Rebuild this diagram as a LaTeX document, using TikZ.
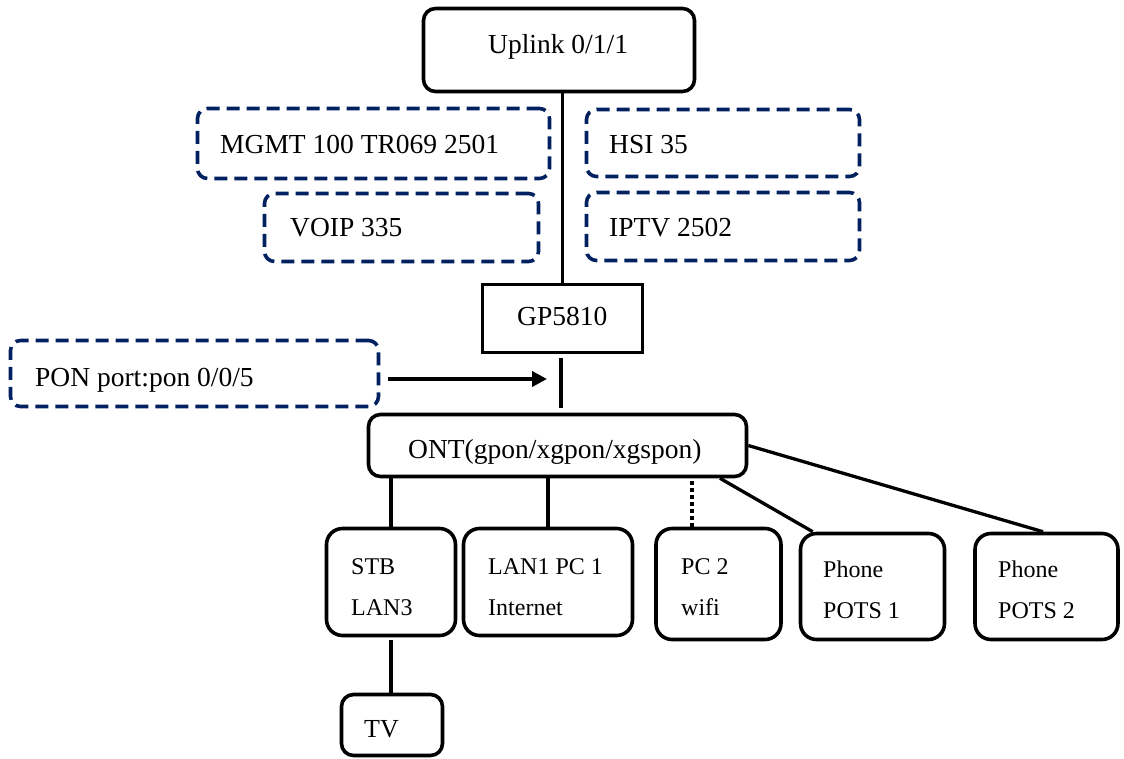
\documentclass[tikz,border=0pt]{standalone}
\usepackage{fontspec}
\setmainfont{Liberation Serif}
\usetikzlibrary{arrows.meta}
\definecolor{vlanblue}{RGB}{0,32,96}
\begin{document}
\begin{tikzpicture}[x=1pt,y=-1pt,
  box/.style={draw, line width=3.6pt, rounded corners=12pt, inner sep=0pt},
  devbox/.style={draw, line width=3.6pt, rounded corners=16pt, inner sep=0pt},
  vlanbox/.style={draw=vlanblue, line width=3.6pt, dash pattern=on 13pt off 7pt,
                  rounded corners=10pt, inner sep=0pt},
  oltbox/.style={draw, line width=3.8pt, inner sep=0pt},
  lbl/.style={inner sep=0pt, anchor=base west, font=\fontsize{27.5}{33}\selectfont},
  small/.style={inner sep=0pt, anchor=base west, font=\fontsize{24}{29}\selectfont},
  link/.style={line width=3.3pt},
]
\useasboundingbox (0,0) rectangle (1124,758);

% uplink and service VLANs
\node[box, minimum width=271pt, minimum height=83pt] (uplink) at (559,50) {};
\node[lbl] (uplinkt) at (488,53) {Uplink 0/1/1};

\node[vlanbox, minimum width=352pt, minimum height=70pt] (mgmt) at (373.5,143.5) {};
\node[lbl] (mgmtt) at (220,153) {MGMT 100 TR069 2501};
\node[vlanbox, minimum width=274pt, minimum height=68pt] (voip) at (401.5,227.5) {};
\node[lbl] (voipt) at (290,236) {VOIP 335};
\node[vlanbox, minimum width=273pt, minimum height=67pt] (hsi) at (723,143) {};
\node[lbl] (hsit) at (609,153) {HSI 35};
\node[vlanbox, minimum width=273pt, minimum height=68pt] (iptv) at (723,226.5) {};
\node[lbl] (iptvt) at (609,236) {IPTV 2502};

% OLT
\node[oltbox, minimum width=160pt, minimum height=68pt] (gp) at (562.5,318.5) {};
\node[lbl] (gpt) at (517,325) {GP5810};

% PON port
\node[vlanbox, minimum width=368pt, minimum height=66pt] (pon) at (194.5,373.5) {};
\node[lbl] (pont) at (35,386) {PON port:pon 0/0/5};
\coordinate (ponend) at (547,379);

% ONT
\node[box, minimum width=378pt, minimum height=62pt] (ont) at (557.5,445.5) {};
\node[lbl] (ontt) at (408,458) {ONT(gpon/xgpon/xgspon)};

% subscriber devices
\node[devbox, minimum width=129pt, minimum height=107pt] (stb) at (391,582) {};
\node[small] (stbt1) at (351,574) {STB};
\node[small] (stbt2) at (351,615) {LAN3};
\node[devbox, minimum width=169pt, minimum height=107pt] (lan) at (548,582) {};
\node[small] (lant1) at (488,574) {LAN1 PC 1};
\node[small] (lant2) at (488,615) {Internet};
\node[devbox, minimum width=125pt, minimum height=111pt] (pc) at (718.5,584) {};
\node[small] (pct1) at (681,574) {PC 2};
\node[small] (pct2) at (681,615) {wifi};
\node[devbox, minimum width=144pt, minimum height=106pt] (ph1) at (872.5,586.5) {};
\node[small] (ph1t1) at (823,577) {Phone};
\node[small] (ph1t2) at (823,618) {POTS 1};
\node[devbox, minimum width=143pt, minimum height=106pt] (ph2) at (1046.5,586.5) {};
\node[small] (ph2t1) at (998,577) {Phone};
\node[small] (ph2t2) at (998,618) {POTS 2};
\node[devbox, rounded corners=12pt, minimum width=101pt, minimum height=61pt] (tv) at (392,725) {};
\node[inner sep=0pt, anchor=base west, font=\fontsize{26}{31}\selectfont] (tvt) at (364,737) {TV};

% connections
\draw[link, line width=2.8pt] (uplink.south -| gp.north) -- (gp.north);
\draw[link, shorten <=4pt, shorten >=5pt] ([xshift=-1.5pt]gp.south) -- ([xshift=-1.5pt]gp.south |- ont.north);
\draw[line width=3.8pt, -{Triangle[length=15pt,width=15pt]}, shorten <=8pt] (pon.east |- ponend) -- (ponend);

\draw[link] (ont.south -| stb.north) -- (stb.north);
\draw[link] (ont.south -| lan.north) -- (lan.north);
\draw[link, dash pattern=on 4pt off 3pt] ([xshift=-26.5pt]pc.north) -- ([xshift=-26.5pt]pc.north |- ont.south);
\draw[link] ([xshift=162.5pt]ont.south) -- ([xshift=14pt]ph1.north west);
\draw[link] (ont.east) -- ([xshift=-3.5pt]ph2.north);
\draw[link, shorten <=3pt] (stb.south) -- (stb.south |- tv.north);
\end{tikzpicture}
\end{document}
